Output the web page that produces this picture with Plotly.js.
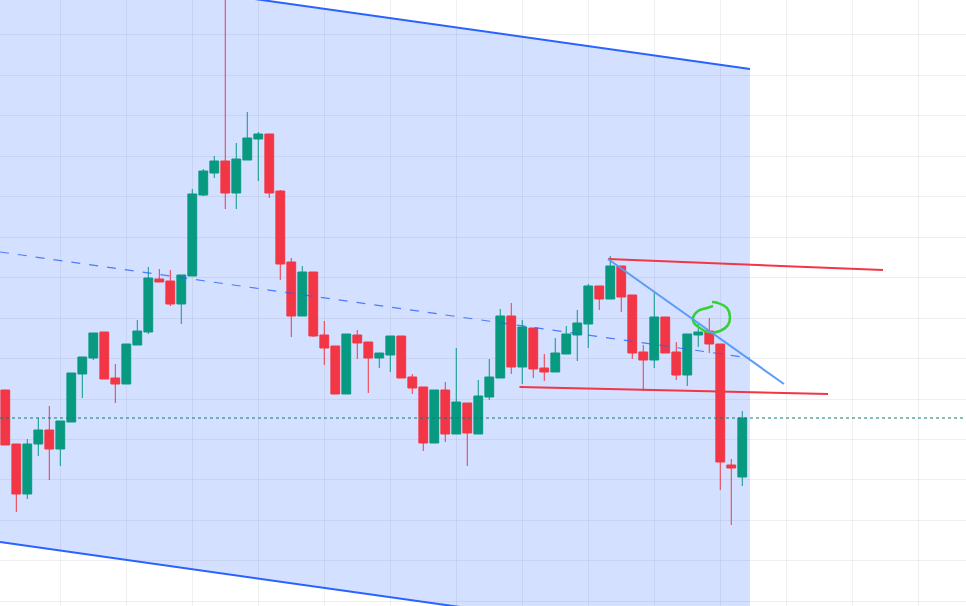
<!DOCTYPE html>
<html>
<head>
<meta charset="utf-8">
<script src="https://cdn.plot.ly/plotly-3.0.1.min.js"></script>
<style>html,body{margin:0;padding:0;background:#fff;}#chart{width:966px;height:606px;}</style>
</head>
<body>
<div id="chart"></div>
<script>
// Candle values
const openP  = [216,162,112,162,176,157,184,232,248,274,228,222,261,274,327,325,302,330,411,433,445,413,446,467,472,415,344,290,334,271,260,212,271,264,248,251,270,229,219,163,216,172,203,172,209,228,290,239,278,238,234,252,271,282,320,307,340,311,254,246,289,254,231,271,275,262,141,129];
const highP  = [216,162,167,188,200,185,233,249,273,274,242,262,286,339,337,336,331,417,437,450,700,463,494,474,472,416,348,340,334,285,260,272,276,264,253,270,270,232,219,216,224,258,203,226,247,297,303,286,278,252,268,280,296,322,320,350,340,311,261,313,289,264,272,282,288,262,147,195];
const lowP   = [161,94,107,150,126,140,184,208,246,227,203,222,261,272,324,300,282,330,410,428,397,397,446,425,408,326,269,290,269,241,212,212,247,213,238,234,228,212,155,163,164,172,140,172,206,228,232,222,228,225,234,252,245,258,296,307,294,247,215,238,253,226,220,259,253,116,81,120];
const closeP = [161,112,162,176,157,185,233,249,273,227,222,262,275,328,324,302,331,412,435,445,413,447,468,472,413,342,290,334,270,258,212,272,263,248,253,270,228,218,163,216,172,204,173,210,229,290,239,279,237,234,253,272,283,320,307,340,309,253,246,289,253,231,272,274,262,144,138,188];
const bars = openP.map((_, k) => k);

// Drawing tools (data coordinates: bar index, price)
const channelX     = [-0.48, 67.7];
const channelTop   = [643, 537];
const channelBot   = [64, -42];
const midX         = [-0.48, 67.7];
const midY         = [354, 248];
const resistX      = [54.79, 79.79];
const resistY      = [347, 336];
const supportX     = [46.75, 74.79];
const supportY     = [219, 212];
const trendX       = [54.79, 70.79];
const trendY       = [347, 222];
const lastPrice    = 188;
const circleX = [64.25,64.79,65.61,65.88,65.70,64.97,63.88,63.15,62.61,62.52,62.97,63.79,64.34];
const circleY = [304,303,298,289,281,275,274,278,283,288,295,298,300];

const candle = {
  type: 'candlestick', x: bars, open: openP, high: highP, low: lowP, close: closeP,
  increasing: {line: {color: '#089981', width: 1}, fillcolor: '#089981'},
  decreasing: {line: {color: '#F23645', width: 1}, fillcolor: '#F23645'},
  whiskerwidth: 0, hoverinfo: 'skip', showlegend: false
};
const circle = {
  type: 'scatter', mode: 'lines', x: circleX, y: circleY,
  line: {color: '#36D136', width: 2.5, shape: 'spline', smoothing: 1.1},
  hoverinfo: 'skip', showlegend: false
};

function seg(x, y, color, width, dash) {
  return {type: 'line', xref: 'x', yref: 'y', x0: x[0], y0: y[0], x1: x[1], y1: y[1],
          line: {color: color, width: width, dash: dash || 'solid'}, layer: 'above'};
}

const fillPath = 'M ' + channelX[0] + ',' + channelTop[0] + ' L ' + channelX[1] + ',' + channelTop[1] +
                 ' L ' + channelX[1] + ',' + channelBot[1] + ' L ' + channelX[0] + ',' + channelBot[0] + ' Z';

const shapes = [
  {type: 'path', xref: 'x', yref: 'y', path: fillPath, fillcolor: 'rgba(41,98,255,0.2)', line: {width: 0}, layer: 'below'},
  seg(channelX, channelTop, '#2962FF', 2),
  seg(channelX, channelBot, '#2962FF', 2),
  seg(midX, midY, 'rgba(41,98,255,0.8)', 1.2, 'dash'),
  {type: 'line', xref: 'paper', yref: 'y', x0: 0, x1: 1, y0: lastPrice, y1: lastPrice,
   line: {color: '#0E7F70', width: 1, dash: 'dot'}, layer: 'above'},
  seg(resistX, resistY, '#F23645', 2),
  seg(supportX, supportY, '#F23645', 2),
  seg(trendX, trendY, '#5B9CF6', 2)
];

const layout = {
  width: 966, height: 606,
  margin: {l: 0, r: 0, t: 0, b: 0, pad: 0},
  paper_bgcolor: '#ffffff', plot_bgcolor: '#ffffff',
  showlegend: false, boxgap: 0.2, boxgroupgap: 0,
  xaxis: {range: [-0.482, 87.34], tick0: 5, dtick: 6, showgrid: true, gridcolor: 'rgba(42,46,57,0.07)',
          zeroline: false, showline: false, showticklabels: false, ticks: '',
          rangeslider: {visible: false}, fixedrange: true},
  yaxis: {range: [0, 606], tick0: 571.1, dtick: 40.46, showgrid: true, gridcolor: 'rgba(42,46,57,0.07)',
          zeroline: false, showline: false, showticklabels: false, ticks: '', fixedrange: true},
  shapes: shapes
};

Plotly.newPlot('chart', [candle, circle], layout, {staticPlot: true, displayModeBar: false});
</script>
</body>
</html>
